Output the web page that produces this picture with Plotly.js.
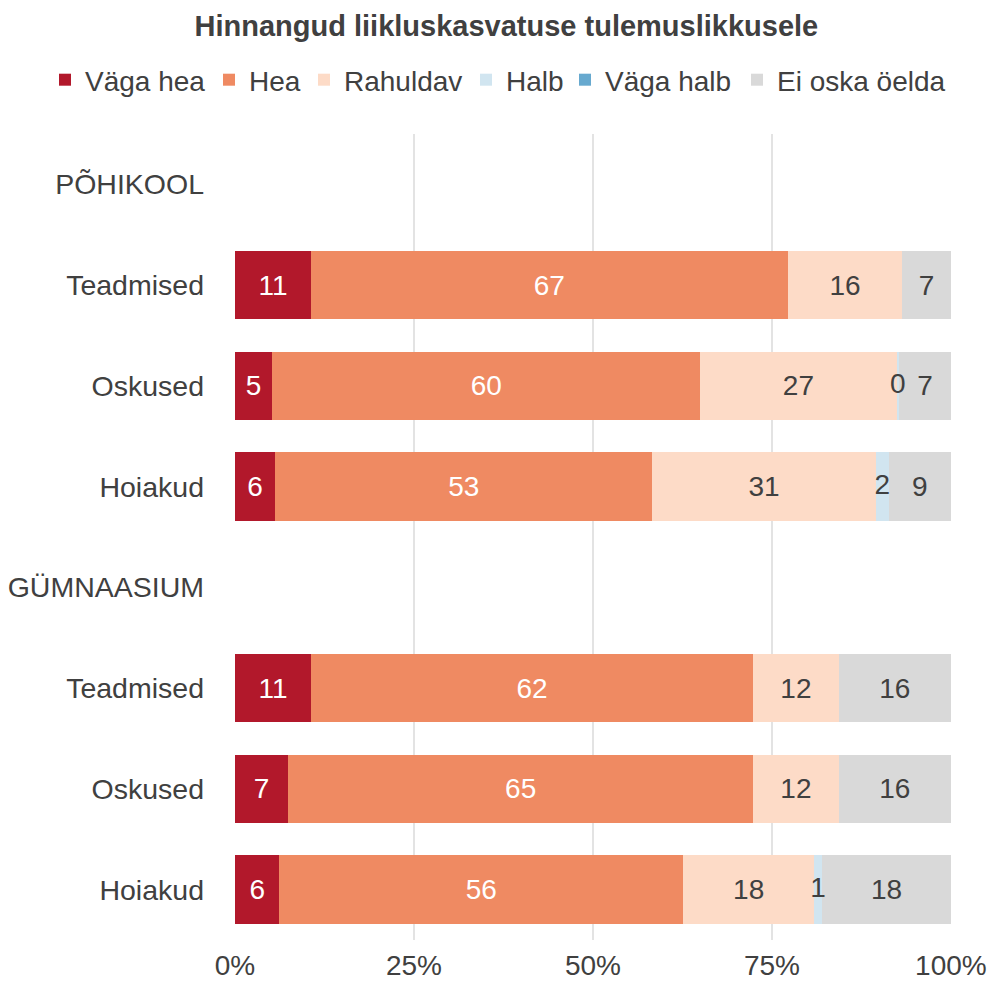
<!DOCTYPE html>
<html>
<head>
<meta charset="utf-8">
<script src="https://cdn.plot.ly/plotly-3.0.1.min.js"></script>
<style>html,body{margin:0;padding:0;background:#fff;}#chart{width:991px;height:981px;}</style>
</head>
<body>
<div id="chart"></div>
<script>
// Row labels (top to bottom); group headers have no bars
const rowLabels = ["PÕHIKOOL", "Teadmised", "Oskused", "Hoiakud", "GÜMNAASIUM", "Teadmised", "Oskused", "Hoiakud"];
const seriesNames = ["Väga hea", "Hea", "Rahuldav", "Halb", "Väga halb", "Ei oska öelda"];

// Shares in percent, per row
const vagaHea    = [null, 10.6, 5.2, 5.6, null, 10.6, 7.4, 6.2];
const hea        = [null, 66.6, 59.8, 52.7, null, 61.8, 65.0, 56.4];
const rahuldav   = [null, 16.0, 27.4, 31.2, null, 11.9, 11.9, 18.3];
const halb       = [null, null, 0.35, 1.8, null, null, null, 1.1];
const vagaHalb   = [null, null, null, null, null, null, null, null];
const eiOska     = [null, 6.8, 7.25, 8.7, null, 15.7, 15.7, 18.0];

const xTicks = [0, 25, 50, 75, 100];

const seriesValues = [vagaHea, hea, rahuldav, halb, vagaHalb, eiOska];
const colors = ["#b2182b", "#ef8a62", "#fddbc7", "#d1e5f0", "#67a9cf", "#d9d9d9"];
const textColors = ["#ffffff", "#ffffff", "#404040", "#404040", "#404040", "#404040"];
// pixel x where each legend label text starts (one legend box per entry, laid out in a single row)
const legendTextX = [88, 252, 347, 509, 608, 780];
const FONT = "Liberation Sans, Arial, Helvetica, sans-serif";
const TXT = "#404040";
const rowIdx = rowLabels.map((_, i) => i);
const legendIds = seriesNames.map((_, k) => k === 0 ? "legend" : "legend" + (k + 1));

const traces = seriesNames.map((name, k) => ({
  type: "bar",
  orientation: "h",
  name: name,
  legend: legendIds[k],
  y: rowIdx,
  x: seriesValues[k],
  marker: {color: colors[k], line: {width: 0}},
  texttemplate: k === 3 ? "" : "%{x:.0f}",
  textposition: "inside",
  insidetextanchor: "middle",
  constraintext: "none",
  textangle: 0,
  insidetextfont: {family: FONT, size: 28, color: textColors[k]},
  hoverinfo: "name+x",
  cliponaxis: false
}));

// Labels for the thin "Halb" segments, drawn on top so neighbours don't cover them
const halbMid = rowIdx.map(i => halb[i] == null ? null :
  (vagaHea[i] || 0) + (hea[i] || 0) + (rahuldav[i] || 0) + halb[i] / 2);
traces.push({
  type: "scatter",
  mode: "text",
  x: halbMid,
  y: rowIdx,
  text: halb.map(v => v == null ? "" : String(Math.round(v))),
  textposition: "middle center",
  textfont: {family: FONT, size: 28, color: TXT},
  showlegend: false,
  hoverinfo: "skip",
  cliponaxis: false
});

const layout = {
  width: 991,
  height: 981,
  barmode: "stack",
  bargap: 0.32,
  paper_bgcolor: "#ffffff",
  plot_bgcolor: "#ffffff",
  font: {family: FONT, size: 28, color: TXT},
  margin: {l: 235, r: 40, t: 134, b: 41, pad: 0},
  title: {
    text: "<b>Hinnangud liikluskasvatuse tulemuslikkusele</b>",
    font: {family: FONT, size: 29, color: TXT},
    x: 0.511, xref: "container", xanchor: "center",
    y: 1 - 26 / 981, yref: "container", yanchor: "middle"
  },
  xaxis: {
    range: [0, 100.01],
    tickvals: xTicks,
    ticktext: xTicks.map(v => v + "%"),
    showgrid: true,
    gridcolor: "#e3e3e3",
    gridwidth: 2,
    zeroline: false,
    showline: false,
    ticks: "",
    ticklabelstandoff: 6,
    tickfont: {family: FONT, size: 28, color: TXT},
    fixedrange: true
  },
  yaxis: {
    range: [7.5, -0.5],
    tickvals: rowIdx,
    ticktext: rowLabels,
    showgrid: false,
    zeroline: false,
    showline: false,
    ticks: "",
    ticklabelstandoff: 30,
    tickfont: {family: FONT, size: 28.5, color: TXT},
    fixedrange: true
  },
  showlegend: true
};

legendIds.forEach((id, k) => {
  layout[id] = {
    orientation: "h",
    xref: "container", yref: "container",
    x: (legendTextX[k] - 43) / 991, xanchor: "left",
    y: 1 - 80 / 981, yanchor: "middle",
    font: {family: FONT, size: 28, color: TXT},
    itemwidth: 30,
    bgcolor: "rgba(0,0,0,0)"
  };
});

Plotly.newPlot("chart", traces, layout, {displayModeBar: false, staticPlot: true});
</script>
</body>
</html>
